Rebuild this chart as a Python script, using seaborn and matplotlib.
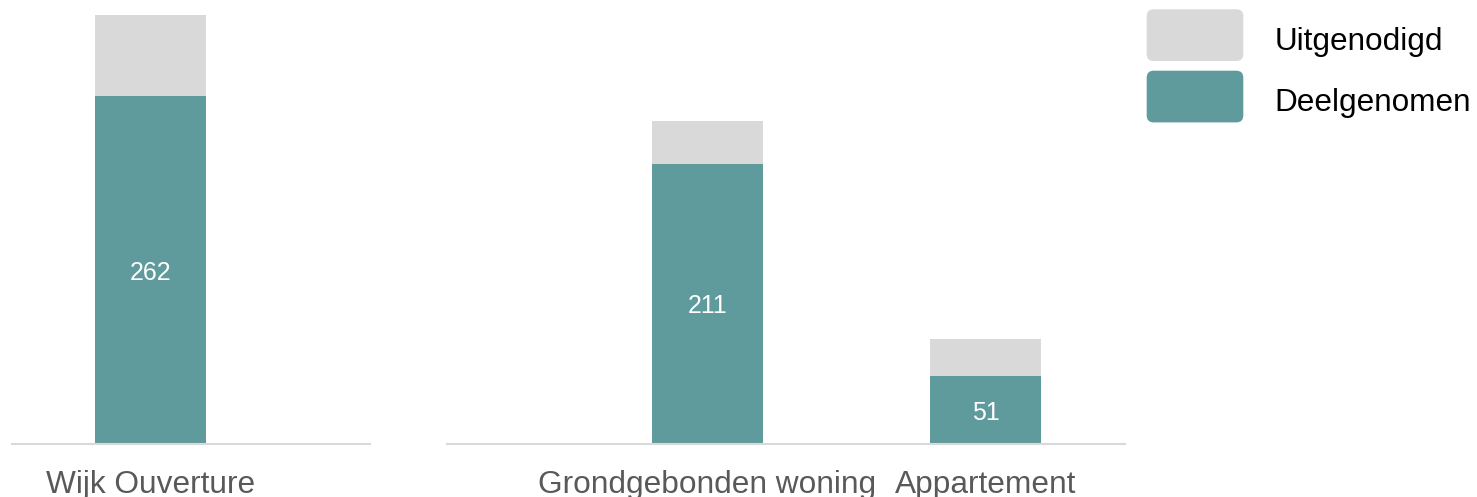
import matplotlib
matplotlib.use("Agg")
import matplotlib.pyplot as plt
import seaborn as sns
import pandas as pd
from matplotlib.legend_handler import HandlerPatch
from matplotlib.patches import FancyBboxPatch, Patch

# ---- data ----
left_categories = ["Wijk Ouverture"]
left_uitgenodigd = [323]
left_deelgenomen = [262]

right_categories = ["Grondgebonden woning", "Appartement"]
right_uitgenodigd = [243, 79]
right_deelgenomen = [211, 51]

series_labels = ["Uitgenodigd", "Deelgenomen"]

GRAY = "#D9D9D9"
TEAL = "#5F9A9D"
TICK_COLOR = "#595959"

sns.set_theme(style="white")
plt.rcParams["font.family"] = ["Liberation Sans", "DejaVu Sans"]

W, H = 1477, 497
PX2PT = 0.72
fig = plt.figure(figsize=(W / 100, H / 100), dpi=100)

bottom = (H - 444) / H
height = 429 / H
ax1 = fig.add_axes([12 / W, bottom, 358 / W, height])
ax2 = fig.add_axes([447 / W, bottom, 678 / W, height])


def draw(ax, cats, uit, deel, xlim):
    df = pd.DataFrame({"cat": cats, "uit": uit, "deel": deel})
    sns.barplot(data=df, x="cat", y="uit", color=GRAY, saturation=1,
                width=0.4, ax=ax, order=cats)
    sns.barplot(data=df, x="cat", y="deel", color=TEAL, saturation=1,
                width=0.4, ax=ax, order=cats)
    for bar in ax.patches:
        bar.set_edgecolor("none")
        bar.set_linewidth(0)
    texts = ax.bar_label(ax.containers[1], labels=[str(v) for v in deel],
                         label_type="center", color="white", fontsize=18)
    for t in texts:
        t.set_va("center_baseline")
    ax.set_ylim(0, 323)
    ax.set_xlim(*xlim)
    ax.set_xlabel("")
    ax.set_ylabel("")
    ax.set_yticks([])
    for s in ["top", "left", "right"]:
        ax.spines[s].set_visible(False)
    ax.spines["bottom"].set_color(GRAY)
    ax.spines["bottom"].set_linewidth(1.5)
    ax.tick_params(axis="x", length=0, pad=18.5, labelsize=22.8,
                   labelcolor=TICK_COLOR)
    ax.set_facecolor("none")


draw(ax1, left_categories, left_uitgenodigd, left_deelgenomen, (-0.499, 0.788))
draw(ax2, right_categories, right_uitgenodigd, right_deelgenomen, (-0.936, 1.5015))

# legend geometry (points)
LFS = 22.7
P_PT = 51.7 * PX2PT      # square height
B_PT = 11.0 * PX2PT      # square bottom below text baseline
W_PT = 96.6 * PX2PT      # square width
hh = (P_PT / LFS - 0.245) / 0.65
desc = 0.35 * LFS * (hh - 0.7)
stick_pt = desc - B_PT


class RoundHandler(HandlerPatch):
    def create_artists(self, legend, orig_handle, xdescent, ydescent,
                       width, height, fontsize, trans):
        p = FancyBboxPatch((-xdescent, -B_PT), width, P_PT,
                           boxstyle="round,pad=0,rounding_size=5",
                           facecolor=orig_handle.get_facecolor(),
                           edgecolor="none", transform=trans)
        return [p]


handles = [Patch(facecolor=GRAY), Patch(facecolor=TEAL)]
fig.legend(handles, series_labels, loc="upper left",
           bbox_to_anchor=(1146.7 / W, (H - 9.3 - stick_pt / PX2PT) / H),
           bbox_transform=fig.transFigure, frameon=False,
           borderpad=0, borderaxespad=0, fontsize=LFS,
           handlelength=W_PT / LFS, handleheight=hh,
           labelspacing=9.7 * PX2PT / LFS,
           handletextpad=1.0, labelcolor="black",
           handler_map={Patch: RoundHandler()})

fig.savefig("out.png", dpi=100)
